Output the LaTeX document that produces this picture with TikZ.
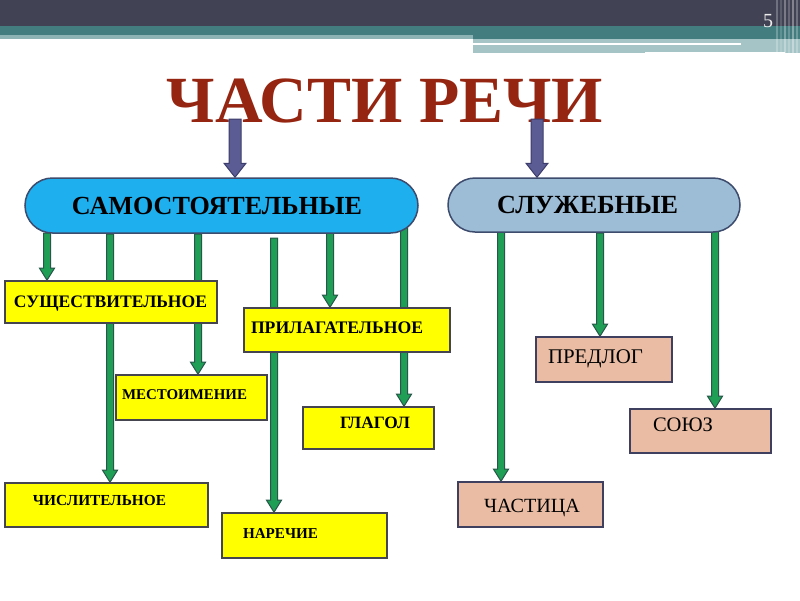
\documentclass[tikz,border=0pt]{standalone}
\usepackage{fontspec}
\setmainfont{Liberation Serif}
\usetikzlibrary{calc,shapes.misc}
\pgfdeclarelayer{bg}
\pgfsetlayers{bg,main}
\definecolor{topdark}{HTML}{414254}
\definecolor{tealA}{HTML}{447D80}
\definecolor{tealB}{HTML}{8DB3B5}
\definecolor{tealL}{HTML}{A5C4C6}
\definecolor{titlered}{HTML}{952510}
\definecolor{arrblue}{HTML}{5B5C94}
\definecolor{arrblueD}{HTML}{3C3D6A}
\definecolor{ellA}{HTML}{1EAFEF}
\definecolor{ellB}{HTML}{9DBCD6}
\definecolor{ellline}{HTML}{3D4B6D}
\definecolor{gfill}{HTML}{1F9E55}
\definecolor{gline}{HTML}{29564A}
\definecolor{yfill}{HTML}{FFFF00}
\definecolor{boxline}{HTML}{45454F}
\definecolor{pfill}{HTML}{EABCA4}
\definecolor{pline}{HTML}{3F4060}
\tikzset{
 ybox/.style={draw=boxline, line width=1.6pt, fill=yfill, rectangle, inner sep=0pt},
 pbox/.style={draw=pline, line width=1.6pt, fill=pfill, rectangle, inner sep=0pt},
 btxt/.style={inner sep=0pt, anchor=base, font=\bfseries\fontsize{18pt}{18pt}\selectfont},
 rtxt/.style={inner sep=0pt, anchor=base, font=\fontsize{21pt}{21pt}\selectfont},
 etxt/.style={inner sep=0pt, anchor=base, font=\bfseries\fontsize{27pt}{27pt}\selectfont},
 ell/.style={rounded rectangle, draw=ellline, line width=1.5pt, inner sep=0pt},
 garrow/.style={fill=gfill, draw=gline, line width=1pt},
 barrow/.style={fill=arrblue, draw=arrblueD, line width=1pt},
}
\newcommand\garr[2]{\path[garrow] let \p1=(#1), \p2=(#2.north -| #1) in (\x1-3.5pt,\y1) -- (\x1+3.5pt,\y1) -- (\x1+3.5pt,\y2+12pt) -- (\x1+7.5pt,\y2+12pt) -- (\x1,\y2) -- (\x1-7.5pt,\y2+12pt) -- (\x1-3.5pt,\y2+12pt) -- cycle;}
\newcommand\barr[2]{\path[barrow] let \p1=(#1), \p2=(#2.north -| #1) in (\x1-6pt,\y1) -- (\x1+6pt,\y1) -- (\x1+6pt,\y2+14pt) -- (\x1+11pt,\y2+14pt) -- (\x1,\y2) -- (\x1-11pt,\y2+14pt) -- (\x1-6pt,\y2+14pt) -- cycle;}
\begin{document}
\begin{tikzpicture}[x=1pt,y=-1pt]
\useasboundingbox (0,0) rectangle (800,600);
\begin{pgfonlayer}{bg}
\fill[white] (0,0) rectangle (800,600);
\fill[topdark] (0,0) rectangle (800,26);
\fill[tealA] (0,26) rectangle (800,35);
\fill[tealB] (0,35) rectangle (473,39);
\fill[tealA] (473,35) rectangle (800,39);
\fill[tealL] (473,39) rectangle (800,53);
\fill[white] (473,42.5) rectangle (741,44.5);
\fill[white] (645,51.5) rectangle (785,53.5);
\foreach \xx/\op in {776/0.25,780/0.15,784/0.3,788/0.2,792/0.35,796/0.25}
  \fill[white, opacity=\op] (\xx,0) rectangle (\xx+2,55);
\end{pgfonlayer}
\node[inner sep=0pt, anchor=base, text=white!85!gray, font=\fontsize{20pt}{20pt}\selectfont] (num) at (768,27) {5};
\node[inner sep=0pt, anchor=base, text=titlered, font=\bfseries\fontsize{70pt}{70pt}\selectfont] (title) at (385,122) {\resizebox{436pt}{!}{ЧАСТИ РЕЧИ}};
% ellipses
\node[ell, fill=ellA, minimum width=393pt, minimum height=55pt] (e1) at (221.5,205.5) {};
\node[ell, fill=ellB, minimum width=292pt, minimum height=54pt] (e2) at (594,205) {};
\node[etxt] (et1) at (217,214) {\resizebox{290pt}{!}{САМОСТОЯТЕЛЬНЫЕ}};
\node[etxt] (et2) at (587.5,213) {\resizebox{181pt}{!}{СЛУЖЕБНЫЕ}};
% boxes
\node[ybox, minimum width=212pt, minimum height=42pt] (b1) at (111,302) {};
\node[ybox, minimum width=203pt, minimum height=44pt] (b2) at (106.5,505) {};
\node[ybox, minimum width=151pt, minimum height=45pt] (b3) at (191.5,397.5) {};
\node[ybox, minimum width=165pt, minimum height=45pt] (b4) at (304.5,535.5) {};
\node[ybox, minimum width=206pt, minimum height=44pt] (b5) at (347,330) {};
\node[ybox, minimum width=131pt, minimum height=42pt] (b6) at (368.5,428) {};
\node[pbox, minimum width=145pt, minimum height=45pt] (b7) at (530.5,504.5) {};
\node[pbox, minimum width=136pt, minimum height=45pt] (b8) at (604,359.5) {};
\node[pbox, minimum width=141pt, minimum height=44pt] (b9) at (700.5,431) {};
\node[btxt] (t1) at (110.5,307) {\resizebox{193pt}{!}{СУЩЕСТВИТЕЛЬНОЕ}};
\node[btxt] (t2) at (99.5,505) {\resizebox{133pt}{!}{ЧИСЛИТЕЛЬНОЕ}};
\node[btxt] (t3) at (184.5,399) {\resizebox{125pt}{!}{МЕСТОИМЕНИЕ}};
\node[btxt] (t4) at (280.5,538) {\resizebox{75pt}{!}{НАРЕЧИЕ}};
\node[btxt] (t5) at (337,333) {\resizebox{172pt}{!}{ПРИЛАГАТЕЛЬНОЕ}};
\node[btxt] (t6) at (375,428) {\resizebox{70pt}{!}{ГЛАГОЛ}};
\node[rtxt] (t7) at (532,512) {\resizebox{96pt}{!}{ЧАСТИЦА}};
\node[rtxt] (t8) at (595.5,363) {\resizebox{95pt}{!}{ПРЕДЛОГ}};
\node[rtxt] (t9) at (683,431) {\resizebox{60pt}{!}{СОЮЗ}};
% arrow starts
\coordinate (ba1) at (235,119);
\coordinate (ba2) at (537,119);
\coordinate (g1) at (47,233);
\coordinate (g2) at (110,234);
\coordinate (g3) at (198,234);
\coordinate (g4) at (274,238);
\coordinate (g5) at (330,230);
\coordinate (g6) at (404,223);
\coordinate (g7) at (501,230);
\coordinate (g8) at (600,233);
\coordinate (g9) at (715,226);
\barr{ba1}{e1}
\barr{ba2}{e2}
\begin{pgfonlayer}{bg}
\garr{g1}{b1}
\garr{g2}{b2}
\garr{g3}{b3}
\garr{g4}{b4}
\garr{g5}{b5}
\garr{g6}{b6}
\garr{g7}{b7}
\garr{g8}{b8}
\garr{g9}{b9}
\end{pgfonlayer}
\end{tikzpicture}
\end{document}
